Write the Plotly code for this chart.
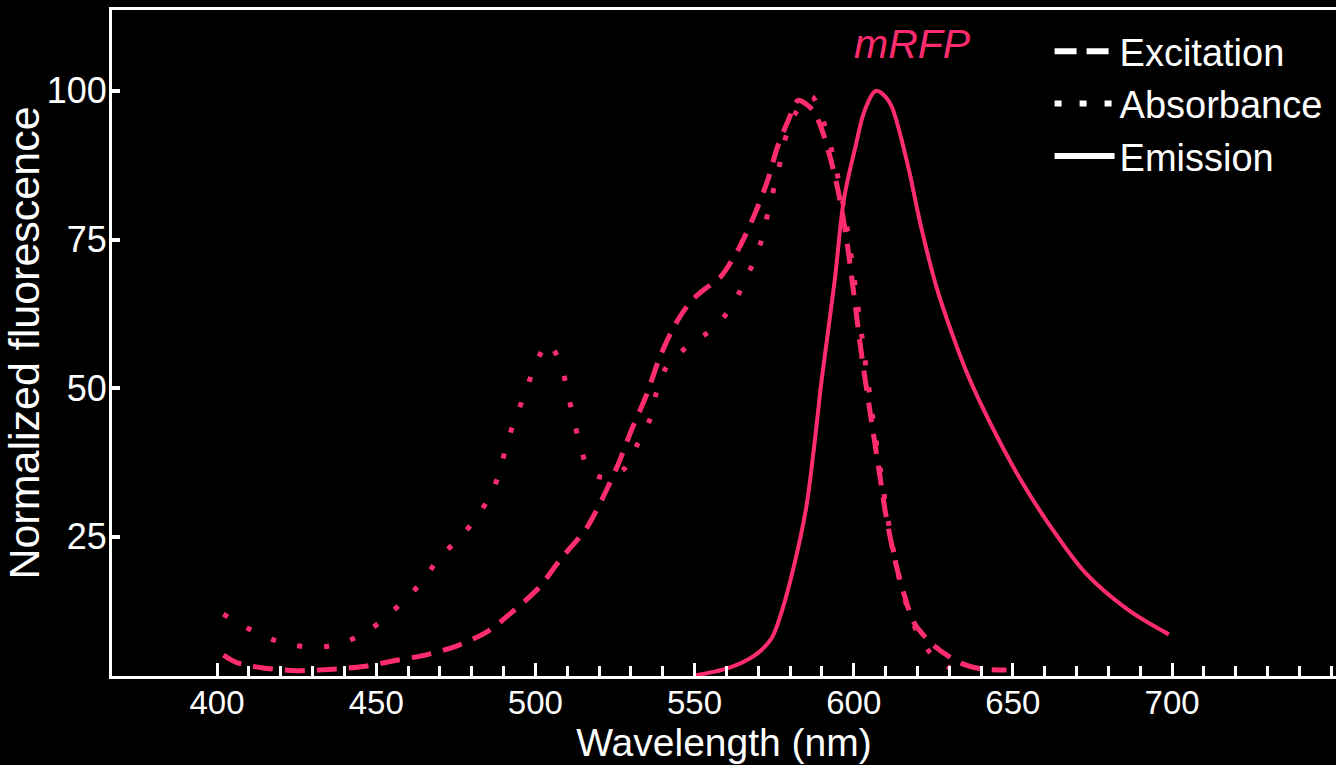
import plotly.graph_objects as go

# ---- data ----
excitation_nm = [402, 406, 414, 425, 435, 446, 456, 466, 476, 485, 493, 501, 508, 516, 521, 526,
                 530, 535, 539, 544, 549, 553, 558, 564, 569, 573, 576, 579.5, 582.5, 585, 587.5,
                 590, 592.5, 595, 597.5, 600, 602.5, 605, 608, 610, 613, 616, 619, 625, 633, 640, 648]
excitation_val = [5.1, 3.9, 3.0, 2.5, 2.7, 3.2, 4.2, 5.2, 6.8, 9.1, 12.5, 16.4, 21.3, 26.4, 31.4, 37.2,
                  42.7, 49.0, 55.1, 60.8, 64.7, 66.6, 68.6, 73.6, 79.4, 85.0, 90.5, 95.1, 98.4, 97.8, 96.5,
                  93.5, 89.0, 83.5, 76.0, 66.0, 55.5, 46.5, 36.0, 29.0, 21.0, 15.0, 10.5, 6.8, 3.9, 2.8, 2.6]

absorbance_nm = [402, 409, 417, 424, 432, 440, 447, 453, 460, 465, 470, 476, 481, 486, 489, 491,
                 494, 497, 500, 504, 508, 510, 512, 514, 517, 521, 525, 528, 532, 536, 538, 541,
                 547, 554, 560, 564, 568, 571, 573, 575, 577, 579, 582, 585, 587, 589, 591, 594,
                 597, 600, 603, 606, 609, 612, 615, 619, 624, 630]
absorbance_val = [12.0, 9.8, 7.8, 6.8, 6.4, 7.3, 9.0, 11.5, 14.9, 17.9, 21.6, 24.7, 27.9, 32.1, 36.3, 40.7,
                  45.3, 49.5, 54.0, 57.6, 54.0, 49.5, 44.9, 40.5, 36.0, 35.0, 35.5, 36.5, 40.5, 44.8, 49.2, 53.4,
                  56.7, 59.3, 62.5, 66.0, 70.6, 74.8, 79.4, 83.8, 88.3, 92.9, 96.5, 98.6, 99.0, 97.0, 94.0, 88.0,
                  80.0, 69.0, 57.0, 45.0, 34.0, 24.0, 16.5, 10.0, 5.5, 3.0]

emission_nm = [550, 561, 569, 574, 577, 581, 585, 587.5, 590, 594, 597, 600.5, 603.5, 607, 610,
               612, 617, 621, 626, 631, 636, 643, 652, 662, 673, 686, 699]
emission_val = [1.7, 3.0, 5.1, 7.8, 11.8, 19.6, 29.7, 39.9, 51.7, 68.0, 82.0, 90.5, 96.8, 100.0, 99.0,
                97.3, 87.5, 77.5, 67.0, 59.0, 52.0, 44.0, 35.0, 26.6, 18.8, 12.8, 8.6]

series_names = ["Excitation", "Absorbance", "Emission"]
x_tick_vals = [400, 450, 500, 550, 600, 650, 700]
x_minor_vals = list(range(410, 751, 10))
y_tick_vals = [25, 50, 75, 100]

PINK = "#ff2d6e"
FONT = "Liberation Sans, Arial, Helvetica, sans-serif"

fig = go.Figure()

fig.add_trace(go.Scatter(x=excitation_nm, y=excitation_val, mode="lines", name=series_names[0],
                         line=dict(color=PINK, width=5, dash="20px,12px", shape="spline", smoothing=0.8),
                         showlegend=False))
fig.add_trace(go.Scatter(x=absorbance_nm, y=absorbance_val, mode="lines", name=series_names[1],
                         line=dict(color=PINK, width=5, dash="5px,22px", shape="spline", smoothing=0.8),
                         showlegend=False))
fig.add_trace(go.Scatter(x=emission_nm, y=emission_val, mode="lines", name=series_names[2],
                         line=dict(color=PINK, width=4, shape="spline", smoothing=1.0),
                         showlegend=False))

# legend entries (white samples, as in the reference)
legend_dash = ["22px,10px", "7px,18px", "solid"]
for name, dash in zip(series_names, legend_dash):
    fig.add_trace(go.Scatter(x=[None], y=[None], mode="lines", name=name,
                             line=dict(color="white", width=6, dash=dash)))

fig.add_annotation(x=618.5, y=107.8, text="<i>mRFP</i>", showarrow=False,
                   font=dict(family=FONT, size=41, color=PINK), xref="x", yref="y")

fig.update_layout(
    width=1336, height=765,
    paper_bgcolor="black", plot_bgcolor="black",
    margin=dict(l=112, r=0, t=10, b=89),
    font=dict(family=FONT, color="white"),
    legend=dict(x=0.766, y=0.985, xanchor="left", yanchor="top",
                bgcolor="rgba(0,0,0,0)", font=dict(size=38, color="white"),
                itemwidth=60, tracegroupgap=0),
    xaxis=dict(range=[367, 751.5], showgrid=False, zeroline=False,
               showline=True, linecolor="white", linewidth=3, mirror=True,
               ticks="inside", ticklen=13, tickwidth=3, tickcolor="white",
               tickmode="array", tickvals=x_tick_vals,
               tickfont=dict(size=33, color="white"), ticklabelstandoff=-5,
               minor=dict(tickmode="array", tickvals=x_minor_vals, ticks="inside",
                          ticklen=10, tickwidth=3, tickcolor="white", showgrid=False),
               title=dict(text="Wavelength (nm)", font=dict(size=39, color="white"), standoff=0)),
    yaxis=dict(range=[1.6, 113.6], showgrid=False, zeroline=False,
               showline=True, linecolor="white", linewidth=3, mirror=False,
               ticks="inside", ticklen=8, tickwidth=4, tickcolor="white",
               tickmode="array", tickvals=y_tick_vals,
               tickfont=dict(size=36, color="white"), ticklabelstandoff=-5,
               title=dict(text="Normalized fluorescence", font=dict(size=43, color="white"), standoff=0)),
)

fig.write_html(
    "out.html",
    config={"displayModeBar": False},
    post_script="document.body.style.margin='0';document.body.style.background='black';",
)
